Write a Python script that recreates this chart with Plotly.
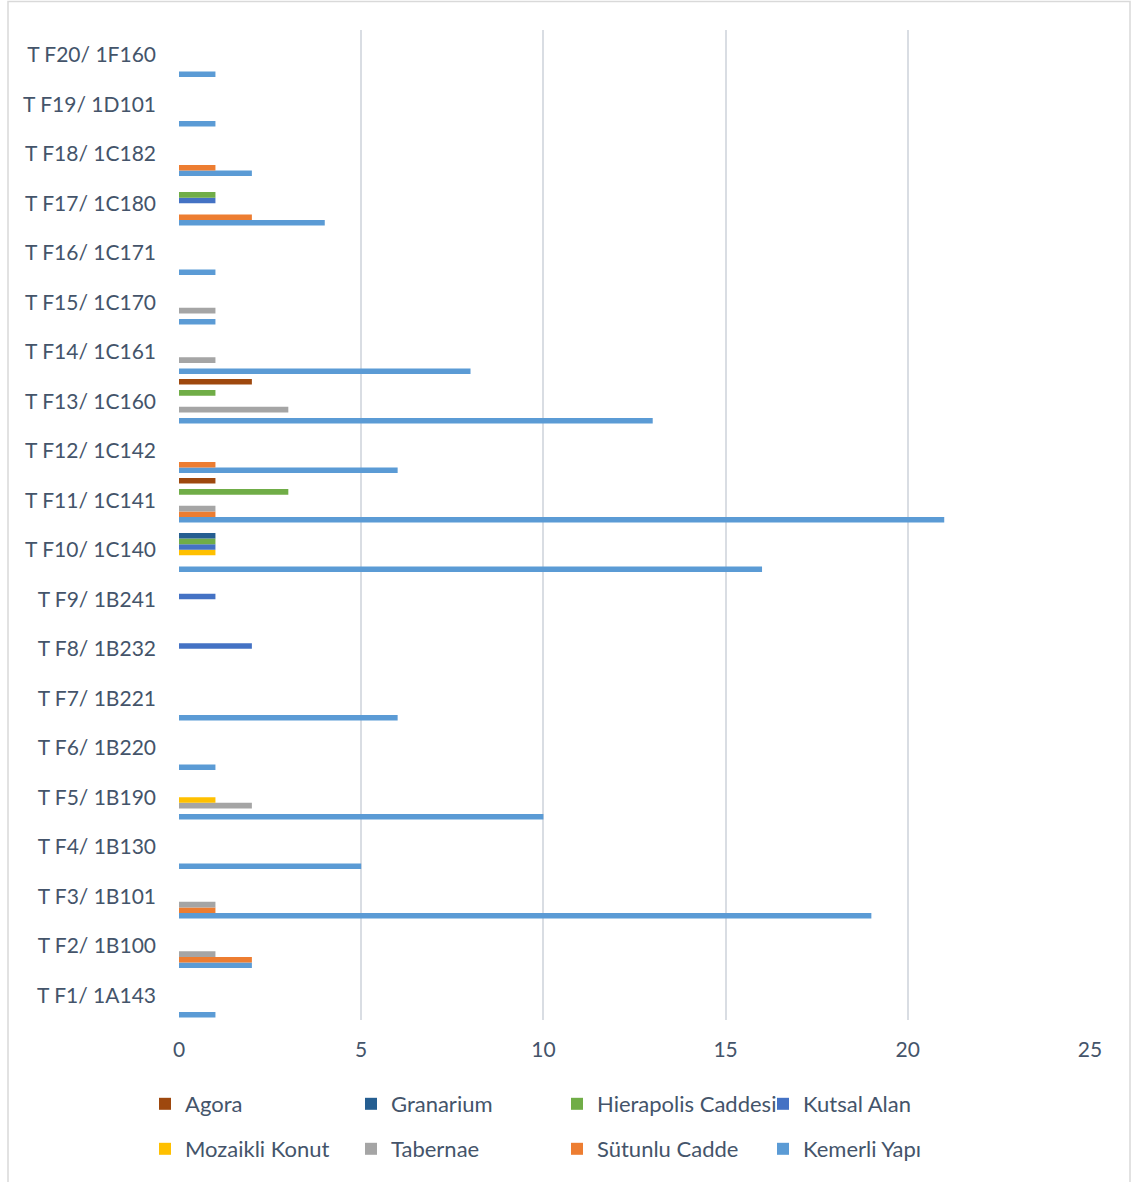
import plotly.graph_objects as go

categories = ["T F1/ 1A143", "T F2/ 1B100", "T F3/ 1B101", "T F4/ 1B130", "T F5/ 1B190",
              "T F6/ 1B220", "T F7/ 1B221", "T F8/ 1B232", "T F9/ 1B241", "T F10/ 1C140",
              "T F11/ 1C141", "T F12/ 1C142", "T F13/ 1C160", "T F14/ 1C161", "T F15/ 1C170",
              "T F16/ 1C171", "T F17/ 1C180", "T F18/ 1C182", "T F19/ 1D101", "T F20/ 1F160"]

kemerli_yapi =     [1, 2, 19, 5, 10, 1, 6, 0, 0, 16, 21, 6, 13, 8, 1, 1, 4, 2, 1, 1]
sutunlu_cadde =    [0, 2, 1, 0, 0, 0, 0, 0, 0, 0, 1, 1, 0, 0, 0, 0, 2, 1, 0, 0]
tabernae =         [0, 1, 1, 0, 2, 0, 0, 0, 0, 0, 1, 0, 3, 1, 1, 0, 0, 0, 0, 0]
mozaikli_konut =   [0, 0, 0, 0, 1, 0, 0, 0, 0, 1, 0, 0, 0, 0, 0, 0, 0, 0, 0, 0]
kutsal_alan =      [0, 0, 0, 0, 0, 0, 0, 2, 1, 1, 0, 0, 0, 0, 0, 0, 1, 0, 0, 0]
hierapolis_cad =   [0, 0, 0, 0, 0, 0, 0, 0, 0, 1, 3, 0, 1, 0, 0, 0, 1, 0, 0, 0]
granarium =        [0, 0, 0, 0, 0, 0, 0, 0, 0, 1, 0, 0, 0, 0, 0, 0, 0, 0, 0, 0]
agora =            [0, 0, 0, 0, 0, 0, 0, 0, 0, 0, 1, 0, 2, 0, 0, 0, 0, 0, 0, 0]

series = [
    ("Kemerli Yapı", kemerli_yapi, "#5B9BD5", "legend2"),
    ("Sütunlu Cadde", sutunlu_cadde, "#ED7D31", "legend2"),
    ("Tabernae", tabernae, "#A5A5A5", "legend2"),
    ("Mozaikli Konut", mozaikli_konut, "#FFC000", "legend2"),
    ("Kutsal Alan", kutsal_alan, "#4472C4", "legend"),
    ("Hierapolis Caddesi", hierapolis_cad, "#70AD47", "legend"),
    ("Granarium", granarium, "#255E91", "legend"),
    ("Agora", agora, "#9E480E", "legend"),
]

FONT = "Lato"
TXT = "#44546A"

fig = go.Figure()
for name, vals, color, leg in series:
    fig.add_trace(go.Bar(y=categories, x=vals, name=name, orientation="h",
                         marker=dict(color=color, line=dict(width=0)), legend=leg))

L, R, T, B = 179, 41, 30, 162
W, H = 1131, 1182
pw, ph = W - L - R, H - T - B

def px_x(x):
    return (x - L) / pw

def px_y(y):
    return (H - B - y) / ph

legend_common = dict(orientation="h", traceorder="reversed", entrywidth=161, entrywidthmode="pixels",
                     font=dict(family=FONT, size=22, color=TXT), bgcolor="rgba(0,0,0,0)",
                     xanchor="left", yanchor="middle", x=px_x(145))

fig.update_layout(
    width=W, height=H,
    margin=dict(l=L, r=R, t=T, b=B),
    paper_bgcolor="white", plot_bgcolor="white",
    barmode="group", bargap=0.1, bargroupgap=0,
    font=dict(family=FONT, size=21, color=TXT),
    legend=dict(**legend_common, y=px_y(1104)),
    legend2=dict(**legend_common, y=px_y(1149)),
    xaxis=dict(range=[0, 25], tickvals=[0, 5, 10, 15, 20, 25], showgrid=True,
               gridcolor="#D9DDE3", gridwidth=1.5, zeroline=False, showline=False,
               ticks="", ticklabelstandoff=15, tickfont=dict(family=FONT, size=21, color=TXT)),
    yaxis=dict(showgrid=False, zeroline=False, showline=False, ticks="",
               ticklabelstandoff=22, tickfont=dict(family=FONT, size=21, color=TXT)),
    shapes=[dict(type="rect", xref="paper", yref="paper",
                 x0=px_x(8), x1=px_x(1130), y0=px_y(1190), y1=px_y(1.5),
                 line=dict(color="#D9D9D9", width=1.5), fillcolor="rgba(0,0,0,0)", layer="below")],
)

fig.write_html("out.html", config={"displayModeBar": False},
               post_script="document.body.style.margin='0';document.body.style.overflow='hidden';")
